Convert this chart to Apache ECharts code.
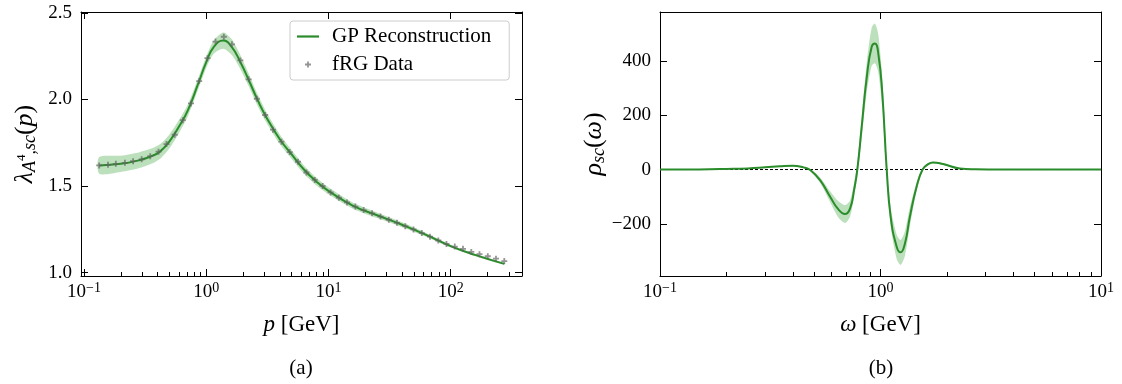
<!DOCTYPE html>
<html>
<head>
<meta charset="utf-8">
<title>GP reconstruction of the fRG vertex and its spectral function</title>
<script src="https://cdn.jsdelivr.net/npm/echarts@6/dist/echarts.min.js"></script>
<style>
  html, body { margin: 0; padding: 0; background: #fff; }
  #chart { width: 1122px; height: 384px; }
</style>
</head>
<body>
<div id="chart"></div>
<script>
// (a) fRG data, p in GeV
var fRGMomentum = [0.133, 0.157, 0.182, 0.216, 0.252, 0.296, 0.348, 0.407, 0.473, 0.552,
  0.643, 0.750, 0.875, 1.023, 1.191, 1.393, 1.622, 1.901, 2.223, 2.594,
  3.034, 3.516, 4.121, 4.819, 5.636, 6.607, 7.727, 8.954, 10.42, 12.16,
  14.19, 16.60, 19.41, 22.75, 26.67, 31.19, 36.39, 42.56, 49.66, 58.08,
  67.76, 79.25, 92.47, 108.1, 126.2, 147.6, 172.2, 201.4, 235.0, 274.8];
var fRGLambda = [1.619, 1.622, 1.628, 1.634, 1.643, 1.654, 1.672, 1.698, 1.742, 1.796,
  1.880, 1.977, 2.106, 2.238, 2.334, 2.362, 2.318, 2.225, 2.116, 2.004,
  1.910, 1.825, 1.756, 1.696, 1.640, 1.578, 1.535, 1.500, 1.463, 1.432,
  1.405, 1.381, 1.361, 1.342, 1.323, 1.305, 1.287, 1.268, 1.249, 1.228,
  1.207, 1.185, 1.165, 1.150, 1.137, 1.119, 1.106, 1.094, 1.080, 1.066];

// (a) GP reconstruction: mean and half width of the band
var gpMomentum = [0.133, 0.2, 0.28, 0.355, 0.42, 0.5, 0.6, 0.71, 0.85, 1.0,
  1.15, 1.38, 1.62, 1.9, 2.24, 2.63, 3.16, 4.0, 5.0,
  6.3, 7.9, 10, 15.8, 25, 40, 63, 100, 158, 275];
var gpLambda = [1.619, 1.628, 1.648, 1.672, 1.700, 1.758, 1.845, 1.940, 2.082, 2.215,
  2.302, 2.340, 2.302, 2.216, 2.108, 1.997, 1.887, 1.770, 1.682,
  1.595, 1.528, 1.472, 1.387, 1.331, 1.276, 1.218, 1.153, 1.102, 1.050];
var gpLambdaErr = [0.048, 0.047, 0.046, 0.044, 0.042, 0.040, 0.037, 0.034, 0.032, 0.033,
  0.038, 0.047, 0.045, 0.040, 0.036, 0.033, 0.030, 0.028, 0.026,
  0.024, 0.022, 0.020, 0.018, 0.016, 0.014, 0.011, 0.008, 0.006, 0.005];

// (b) reconstructed spectral function, omega in GeV
var omega = [0.1, 0.15, 0.2, 0.25, 0.3, 0.35, 0.4, 0.447, 0.48, 0.532,
  0.591, 0.644, 0.691, 0.728, 0.759, 0.785, 0.822, 0.867, 0.912, 0.944,
  0.977, 1.019, 1.067, 1.112, 1.184, 1.234, 1.291, 1.359, 1.458, 1.552,
  1.645, 1.733, 1.923, 2.29, 2.7, 3.5, 5, 10];
var rho = [0, 0.5, 2, 4, 8, 12, 14, 8, -2, -39,
  -100, -147, -164, -143, -75, 0, 158, 342, 452, 464,
  428, 280, 0, -174, -284, -305, -272, -174, -63, 0,
  20, 26, 20, 4, 1, 0, 0, 0];
var rhoErr = [0, 0, 0.5, 1, 1.5, 2, 2, 3, 4, 10,
  20, 30, 33, 30, 25, 25, 40, 55, 70, 73,
  70, 55, 35, 35, 45, 46, 45, 35, 15, 5,
  4, 3, 3, 2, 1, 0, 0, 0];

var xTicksA = [0.1, 1, 10, 100];
var yTicksA = [1.0, 1.5, 2.0, 2.5];
var xTicksB = [0.1, 1, 10];
var yTicksB = [-200, 0, 200, 400];

var FONT = 'Liberation Serif';
var GREEN = '#2a8c2a';
var BAND = 'rgba(44,160,44,0.32)';
var lg = Math.log10;

var myChart = echarts.init(document.getElementById('chart'));

// tick label like 10^-1
function powLabel(v) {
  var e = Math.round(v);
  return '{b|10}{s|' + (e < 0 ? '\u2212' + (-e) : e) + '}';
}
var tickRich = {
  b: { fontSize: 19, fontFamily: FONT, color: '#000' },
  s: { fontSize: 14, fontFamily: FONT, color: '#000', padding: [0, 0, 9, 0] }
};

// minor ticks at 2..9 of every decade
function minorLogs(lo, hi) {
  var out = [];
  for (var d = Math.floor(lo); d <= Math.ceil(hi); d++) {
    for (var m = 2; m <= 9; m++) {
      var v = d + lg(m);
      if (v > lo && v < hi) out.push(v);
    }
  }
  return out;
}

var spine = { onZero: false, lineStyle: { color: '#000', width: 1 } };
var tickStyle = { color: '#000', width: 1 };

function xAxes(grid, lo, hi, majors, name) {
  var base = { gridIndex: grid, type: 'value', min: lo, max: hi, splitLine: { show: false } };
  return [
    Object.assign({}, base, {
      position: 'bottom',
      axisLine: spine,
      axisTick: { inside: true, length: 7, customValues: majors, lineStyle: tickStyle },
      axisLabel: { customValues: majors, formatter: powLabel, rich: tickRich, margin: 5 },
      name: name, nameLocation: 'middle', nameGap: 37,
      nameTextStyle: {
        fontFamily: FONT, fontSize: 23, color: '#000',
        rich: { i: { fontFamily: FONT, fontSize: 23, fontStyle: 'italic', color: '#000' } }
      }
    }),
    Object.assign({}, base, {
      position: 'bottom',
      axisLine: { show: false, onZero: false },
      axisTick: { inside: true, length: 4, customValues: minorLogs(lo, hi), lineStyle: tickStyle },
      axisLabel: { show: false }
    }),
    Object.assign({}, base, {
      position: 'top',
      axisLine: spine,
      axisTick: { inside: true, length: 7, customValues: majors, lineStyle: tickStyle },
      axisLabel: { show: false }
    })
  ];
}

function yAxes(grid, lo, hi, majors, fmt, name, gap, rich) {
  var base = { gridIndex: grid, type: 'value', min: lo, max: hi, splitLine: { show: false } };
  return [
    Object.assign({}, base, {
      position: 'left',
      axisLine: spine,
      axisTick: { inside: true, length: 7, customValues: majors, lineStyle: tickStyle },
      axisLabel: { customValues: majors, formatter: fmt, margin: 9,
        fontFamily: FONT, fontSize: 19, color: '#000' },
      name: name, nameLocation: 'middle', nameRotate: 90, nameGap: gap,
      nameTextStyle: { fontFamily: FONT, fontSize: 26, color: '#000', rich: rich }
    }),
    Object.assign({}, base, {
      position: 'right',
      axisLine: spine,
      axisTick: { inside: true, length: 7, customValues: majors, lineStyle: tickStyle },
      axisLabel: { show: false }
    })
  ];
}

var nameRich = {
  i: { fontFamily: FONT, fontSize: 26, fontStyle: 'italic', color: '#000' },
  n: { fontFamily: FONT, fontSize: 26, color: '#000' },
  sub: { fontFamily: FONT, fontSize: 18, fontStyle: 'italic', color: '#000', padding: [10, 0, 0, 0] },
  sup: { fontFamily: FONT, fontSize: 13, color: '#000', padding: [0, 0, 6, 0] }
};

// GP band as a polygon through the axes' coordinates
function bandSeries(xi, yi, xs, mean, err) {
  return {
    type: 'custom', xAxisIndex: xi, yAxisIndex: yi, silent: true, z: 1,
    data: [[lg(xs[0]), mean[0]]],
    renderItem: function (params, api) {
      var pts = [];
      for (var i = 0; i < xs.length; i++) pts.push(api.coord([lg(xs[i]), mean[i] + err[i]]));
      for (var j = xs.length - 1; j >= 0; j--) pts.push(api.coord([lg(xs[j]), mean[j] - err[j]]));
      return { type: 'polygon', shape: { points: pts, smooth: 0.25 }, style: { fill: BAND } };
    }
  };
}

function pairs(xs, ys) {
  return xs.map(function (x, i) { return [lg(x), ys[i]]; });
}

var option = {
  animation: false,
  backgroundColor: '#fff',
  grid: [
    { left: 81, top: 12, width: 441, bottom: 108 },
    { left: 660, top: 12, width: 441, bottom: 108 }
  ],
  xAxis: xAxes(0, -1.025, 2.584, xTicksA.map(lg), '{i|p} [GeV]')
    .concat(xAxes(1, lg(xTicksB[0]), lg(xTicksB[2]), xTicksB.map(lg), '{i|\u03c9} [GeV]')),
  yAxis: yAxes(0, 0.98, 2.505, yTicksA, function (v) { return v.toFixed(1); },
      '{i|\u03bb}{sub|A}{sup|4}{sub|,sc}{n|(}{i|p}{n|)}', 42, nameRich)
    .concat(yAxes(1, -392, 580, yTicksB,
      function (v) { return v < 0 ? '\u2212' + (-v) : String(v); },
      '{i|\u03c1}{sub|sc}{n|(}{i|\u03c9}{n|)}', 50, nameRich)),
  legend: {
    data: [
      { name: 'GP Reconstruction', icon: 'path://M0,0H20V2H0Z' },
      { name: 'fRG Data' }
    ],
    orient: 'vertical',
    left: 290, top: 21,
    itemWidth: 22, itemHeight: 6, itemGap: 7,
    padding: [5, 18, 5, 7],
    borderColor: '#cccccc', borderWidth: 1, borderRadius: 3,
    backgroundColor: '#fff',
    textStyle: { fontFamily: FONT, fontSize: 21, color: '#000', padding: [0, 0, 0, 8] }
  },
  graphic: [
    { type: 'text', x: 301, y: 368, style: { text: '(a)', font: '21px "Liberation Serif"',
      fill: '#000', textAlign: 'center', textVerticalAlign: 'middle' } },
    { type: 'text', x: 881, y: 368, style: { text: '(b)', font: '21px "Liberation Serif"',
      fill: '#000', textAlign: 'center', textVerticalAlign: 'middle' } }
  ],
  series: [
    bandSeries(0, 0, gpMomentum, gpLambda, gpLambdaErr),
    {
      name: 'GP Reconstruction', type: 'line', xAxisIndex: 0, yAxisIndex: 0, z: 3,
      data: pairs(gpMomentum, gpLambda), smooth: 0.5, symbol: 'none',
      lineStyle: { color: GREEN, width: 2 }, itemStyle: { color: GREEN }
    },
    {
      name: 'fRG Data', type: 'scatter', xAxisIndex: 0, yAxisIndex: 0, z: 4,
      data: pairs(fRGMomentum, fRGLambda),
      symbol: 'path://M0.7,0H1.3V0.7H2V1.3H1.3V2H0.7V1.3H0V0.7H0.7Z', symbolSize: 6,
      itemStyle: { color: 'rgba(100,100,100,0.85)' }
    },
    bandSeries(3, 2, omega, rho, rhoErr),
    {
      name: 'zero', type: 'line', xAxisIndex: 3, yAxisIndex: 2, z: 2, silent: true,
      data: [[lg(xTicksB[0]), 0], [lg(xTicksB[2]), 0]], symbol: 'none',
      lineStyle: { color: '#000', width: 1, type: [3, 2] }
    },
    {
      name: 'rho GP', type: 'line', xAxisIndex: 3, yAxisIndex: 2, z: 3,
      data: pairs(omega, rho), smooth: 0.5, symbol: 'none',
      lineStyle: { color: GREEN, width: 2 }
    }
  ]
};

myChart.setOption(option);
</script>
</body>
</html>
